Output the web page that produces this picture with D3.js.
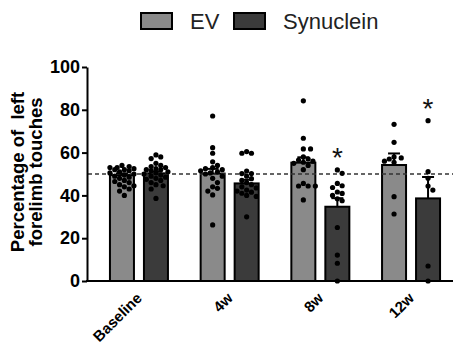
<!DOCTYPE html>
<html>
<head>
<meta charset="utf-8">
<script src="https://cdn.jsdelivr.net/npm/d3@7"></script>
<style>
  html, body { margin: 0; padding: 0; background: #fff; }
  svg { display: block; font-family: "Liberation Sans", Arial, sans-serif; }
</style>
</head>
<body>
<svg id="chart" width="453" height="345"></svg>
<script>
// Time points and groups
const timepoints = ["Baseline", "4w", "8w", "12w"];
const groups = ["EV", "Synuclein"];

// Group means (bar heights) and SEM per time point
const evMean  = [49.5, 50.2, 55.3, 54.2];
const synMean = [50.3, 45.6, 34.7, 38.6];
const evSem   = [0.8, 2.2, 2.5, 5.4];
const synSem  = [0.9, 1.7, 4.0, 10.0];

// Individual animals, percentage of left forelimb touches
const evBaseline  = [54, 53.5, 53, 53, 52.5, 52, 52, 51.5, 51, 50.5, 50, 49.5, 49, 48.5, 48, 47, 46.5, 46, 45, 44.5, 44, 43, 42, 40];
const synBaseline = [58.9, 57.2, 58, 55, 54, 53.5, 53, 52.5, 52, 52, 51.5, 51, 50.5, 50, 49.5, 49, 48.5, 48, 47.5, 47, 46, 45, 44.5, 43, 38.6];
const ev4w  = [77.1, 62.3, 59.7, 55.7, 54, 53, 52.5, 52, 51.5, 51, 50.5, 50, 49, 48, 46, 44, 43.3, 42, 40.2, 26.2];
const syn4w = [60.5, 59.7, 59.7, 51.4, 50.2, 50.2, 49, 47.8, 47, 46, 45, 44, 43.5, 42.5, 42, 41.5, 41, 40, 39.5, 30];
const ev8w  = [84.2, 66.7, 61.7, 61.7, 58, 57, 56.5, 56, 55.5, 55, 54, 52, 45.6, 44.4, 44.4, 44.4, 37.9];
const syn8w = [51.9, 50.3, 45.6, 44.5, 43.7, 41.6, 40.9, 40, 38.4, 37.5, 25, 12.1, 8.3, 0];
const ev12w  = [73.2, 64.8, 58, 57.5, 57, 56, 55.5, 39.4, 31.3];
const syn12w = [74.9, 51.1, 48, 44.4, 42.5, 7, 0];

// Significance marks (Synuclein vs EV)
const significant = ["8w", "12w"];
const yTicks = [0, 20, 40, 60, 80, 100];
const chanceLevel = 50;

const evPoints  = [evBaseline, ev4w, ev8w, ev12w];
const synPoints = [synBaseline, syn4w, syn8w, syn12w];

const colors = { "EV": "#8a8a8a", "Synuclein": "#3b3b3b" };

const rows = [];
timepoints.forEach((t, i) => {
  rows.push({ t, g: "EV", mean: evMean[i], sem: evSem[i], pts: evPoints[i] });
  rows.push({ t, g: "Synuclein", mean: synMean[i], sem: synSem[i], pts: synPoints[i] });
});

const svg = d3.select("#chart");

const y = d3.scaleLinear().domain([0, 100]).range([281, 67]);
const x = d3.scaleBand().domain(timepoints).range([93.6, 456.4]).paddingInner(0).paddingOuter(0);
const xg = d3.scaleBand().domain(groups).range([-29, 29]).paddingInner(10 / 34);
const barX = d => x(d.t) + x.bandwidth() / 2 + xg(d.g);
const barCx = d => barX(d) + xg.bandwidth() / 2;

// Bars
svg.append("g").selectAll("rect")
  .data(rows).join("rect")
  .attr("x", barX)
  .attr("y", d => y(d.mean))
  .attr("width", xg.bandwidth())
  .attr("height", d => y(0) - y(d.mean))
  .attr("fill", d => colors[d.g])
  .attr("stroke", "#000")
  .attr("stroke-width", 2);

// Chance level reference line
svg.append("line")
  .attr("x1", 88).attr("x2", 453)
  .attr("y1", y(chanceLevel)).attr("y2", y(chanceLevel))
  .attr("stroke", "#333").attr("stroke-width", 1.4)
  .attr("stroke-dasharray", "4,3");

// Beeswarm-style horizontal spreading of the individual points
const r = 2.6;
function swarm(values, cx) {
  const placed = [];
  const sorted = values.map(v => v).sort((a, b) => b - a);
  const step = 2.4, maxOff = 14;
  const cands = [0];
  for (let k = 1; k * step <= maxOff; k++) { cands.push(k * step, -k * step); }
  sorted.forEach(v => {
    const py = y(v);
    let best = null, bestD = -1;
    for (const off of cands) {
      const px = cx + off;
      let minD = Infinity;
      placed.forEach(p => { minD = Math.min(minD, Math.hypot(p.x - px, p.y - py)); });
      if (minD >= 2 * r * 0.95) { best = px; bestD = minD; break; }
      if (minD > bestD) { bestD = minD; best = px; }
    }
    placed.push({ x: best, y: py });
  });
  return placed;
}

const dots = svg.append("g");
rows.forEach(d => {
  dots.selectAll(null)
    .data(swarm(d.pts, barCx(d))).join("circle")
    .attr("cx", p => p.x).attr("cy", p => p.y).attr("r", r)
    .attr("fill", "#000");
});

// SEM error bars (upper arm)
const eb = svg.append("g").attr("stroke", "#000").attr("stroke-width", 2);
rows.forEach(d => {
  const cx = barCx(d);
  eb.append("line").attr("x1", cx).attr("x2", cx)
    .attr("y1", y(d.mean)).attr("y2", y(d.mean + d.sem));
  eb.append("line").attr("x1", cx - 6).attr("x2", cx + 6)
    .attr("y1", y(d.mean + d.sem)).attr("y2", y(d.mean + d.sem));
});

// Asterisks above the Synuclein bars
svg.append("g").selectAll("text")
  .data(rows.filter(d => d.g === "Synuclein" && significant.includes(d.t)))
  .join("text")
  .attr("x", barCx)
  .attr("y", d => y(d3.max(d.pts)) - 3)
  .attr("text-anchor", "middle")
  .attr("font-size", 28)
  .attr("fill", "#111")
  .text("*");

// Y axis
const yAxis = svg.append("g")
  .attr("transform", "translate(87,0)")
  .call(d3.axisLeft(y).tickValues(yTicks).tickSize(5).tickPadding(2).tickSizeOuter(0));
yAxis.select(".domain").attr("stroke", "#000").attr("stroke-width", 2);
yAxis.selectAll(".tick line").attr("stroke", "#000").attr("stroke-width", 2);
yAxis.selectAll(".tick text")
  .attr("font-family", "Liberation Sans, Arial, sans-serif")
  .attr("font-size", 18).attr("font-weight", "bold").attr("fill", "#000");

// X axis baseline
svg.append("line")
  .attr("x1", 86).attr("x2", 453)
  .attr("y1", y(0)).attr("y2", y(0))
  .attr("stroke", "#000").attr("stroke-width", 2);

// X tick labels, rotated
svg.append("g").selectAll("text")
  .data(timepoints).join("text")
  .attr("transform", t => `translate(${x(t) + x.bandwidth() / 2 + 4},${y(0) + 18}) rotate(-45)`)
  .attr("text-anchor", "end")
  .attr("font-size", 15).attr("font-weight", "bold").attr("fill", "#000")
  .text(t => t);

// Y axis title
const title = svg.append("text")
  .attr("transform", "translate(0,172) rotate(-90)")
  .attr("text-anchor", "middle")
  .attr("font-size", 18.5).attr("font-weight", "bold").attr("fill", "#000")
  .attr("xml:space", "preserve");
title.append("tspan").attr("x", 0).attr("y", 24).text("Percentage of  left");
title.append("tspan").attr("x", 0).attr("y", 42).text("forelimb touches");

// Legend
const legend = svg.append("g");
const legendItems = [
  { g: "EV", rx: 141, tx: 190 },
  { g: "Synuclein", rx: 234, tx: 283 }
];
legendItems.forEach(it => {
  legend.append("rect")
    .attr("x", it.rx).attr("y", 13).attr("width", 31).attr("height", 16)
    .attr("fill", colors[it.g]).attr("stroke", "#000").attr("stroke-width", 2);
  legend.append("text")
    .attr("x", it.tx).attr("y", 29)
    .attr("font-size", 22).attr("fill", "#222")
    .text(it.g);
});
</script>
</body>
</html>
